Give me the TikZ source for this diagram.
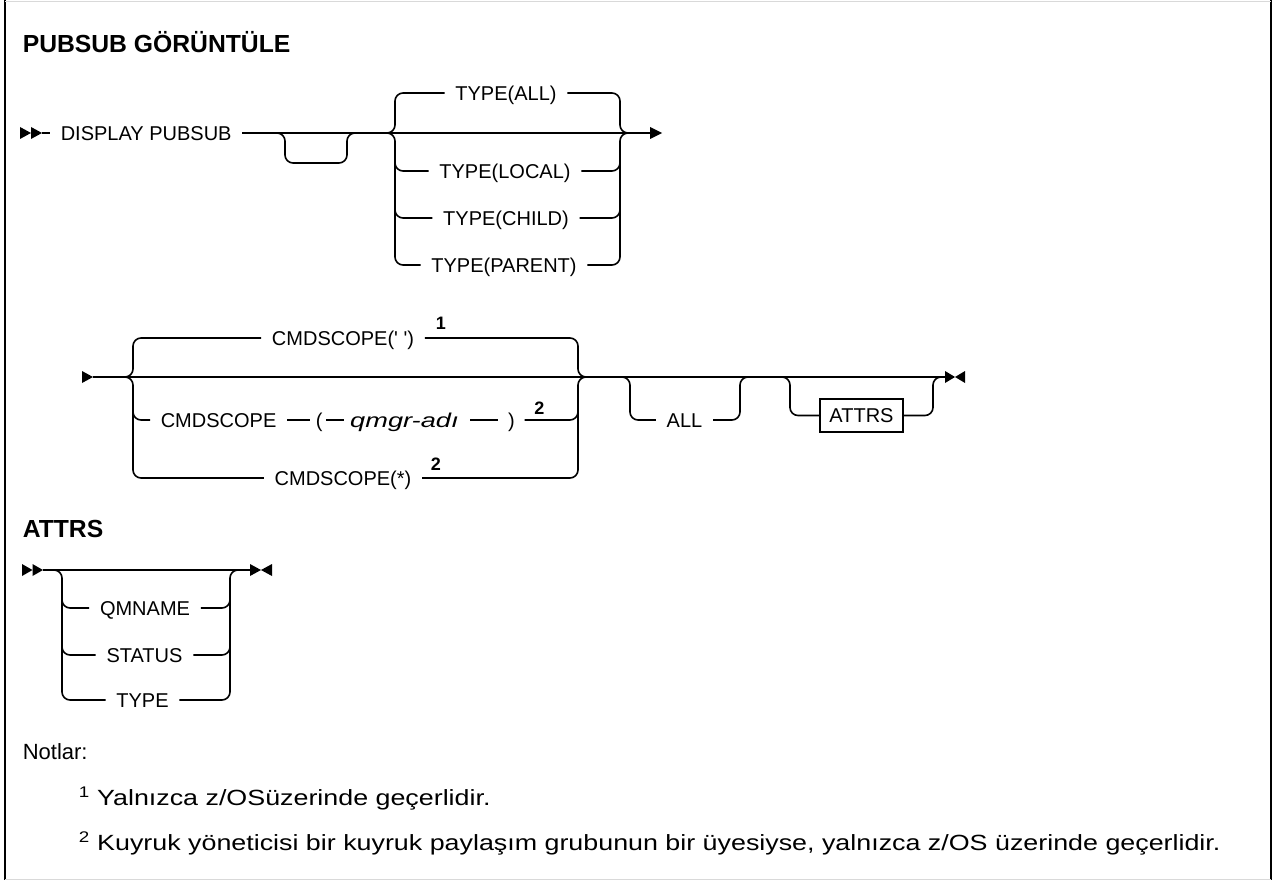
\documentclass[tikz,border=0pt]{standalone}
\usepackage{fontspec}
\setmainfont{Liberation Sans}[Ligatures=TeXOff]
\newfontfamily\widefont{Liberation Sans}[Ligatures=TeXOff,FakeStretch=1.22]
\newfontfamily\wideital{Liberation Sans Italic}[Ligatures=TeXOff,FakeStretch=1.36]
\begin{document}
\begin{tikzpicture}[x=1pt,y=-1pt,line width=1.6pt,
  rc/.style={rounded corners=8pt},
  lbl/.style={inner xsep=10pt,inner ysep=0pt,text height=14.3pt,text depth=0pt,font=\fontsize{20}{20}\selectfont},
  ital/.style={font=\fontsize{20}{20}\wideital},
  sup/.style={inner sep=0pt,font=\fontsize{18}{18}\selectfont\bfseries},
  head/.style={inner sep=0pt,anchor=base west,font=\fontsize{24.7}{24.7}\selectfont\bfseries},
  note/.style={inner sep=0pt,anchor=base west,font=\fontsize{22}{22}\widefont},
  tri/.style={line width=0pt}]
\useasboundingbox (0,0) rectangle (1275,880);
% frame
\draw[line width=2.5pt] (5,0) -- (5,880);
\draw[line width=2.5pt] (1271,0) -- (1271,880);
\draw[line width=0.8pt,black!15] (5,1) -- (1271,1);
\draw[line width=0.8pt,black!15] (5,879) -- (1271,879);

% title
\node[head] (title) at (22,53) {PUBSUB GÖRÜNTÜLE};

% ---------- row 1 ----------
\fill[tri] (20,127) -- (31,133) -- (20,139) -- cycle;
\fill[tri] (31,127) -- (42,133) -- (31,139) -- cycle;
\node[lbl,anchor=west] (disp) at (50,133) {DISPLAY PUBSUB};
\draw (42,133) -- (disp.west);
\draw (disp.east) -- (650,133);
\fill[tri] (650,127) -- (662,133) -- (650,139) -- cycle;
% empty bypass
\draw[rc] (275,133) -- (285,133) -- (285,163) -- (347,163) -- (347,133) -- (357,133);
% TYPE choice
\node[lbl] (tall) at (506,93) {TYPE(ALL)};
\node[lbl] (tloc) at (505,171) {TYPE(LOCAL)};
\node[lbl] (tchi) at (506,218) {TYPE(CHILD)};
\node[lbl] (tpar) at (504,265) {TYPE(PARENT)};
\draw[rc] (385,133) -- (395,133) |- (tall.west);
\draw[rc] (tall.east) -| (620,133) -- (630,133);
\draw[rc] (385,133) -- (395,133) |- (tpar.west);
\draw[rc] (tpar.east) -| (620,133) -- (630,133);
\draw[rc] (395,150) |- (tloc.west);
\draw[rc] (tloc.east) -| (620,150);
\draw[rc] (395,195) |- (tchi.west);
\draw[rc] (tchi.east) -| (620,195);

% ---------- row 2 ----------
\fill[tri] (82,371) -- (93,377) -- (82,383) -- cycle;
\draw (93,377) -- (945,377);
\node[lbl] (cs1) at (343,338) {CMDSCOPE(' ')};
\node[sup] (n1) at (441,323) {1};
\node[lbl,anchor=west] (cs2) at (150,420) {CMDSCOPE};
\node[lbl,inner xsep=0pt,anchor=west] (lp) at ([xshift=28pt]cs2.east) {(};
\node[lbl,ital,inner xsep=0pt,anchor=west] (qn) at ([xshift=26pt]lp.east) {qmgr-adı};
\node[lbl,inner xsep=0pt,anchor=west] (rp) at ([xshift=48pt]qn.east) {)};
\node[sup,anchor=west] (n2a) at ([xshift=18pt,yshift=12pt]rp.east) {2};
\node[lbl] (cs3) at (343,478) {CMDSCOPE(*)};
\node[sup] (n2b) at (436,464) {2};
\draw[rc] (123,377) -- (133,377) |- (cs1.west);
\draw[rc] (cs1.east) -| (578,377) -- (588,377);
\draw[rc] (123,377) -- (133,377) |- (cs3.west);
\draw[rc] (cs3.east) -| (578,377) -- (588,377);
\draw[rc] (133,400) |- (cs2.west);
\draw (cs2.east) -- ([xshift=-5pt]lp.west);
\draw ([xshift=3pt]lp.east) -- ([xshift=-5pt]qn.west);
\draw ([xshift=11pt]qn.east) -- ([xshift=-9pt]rp.west);
\draw[rc] ([xshift=9pt]rp.east) -| (578,400);
% ALL
\node[lbl] (all) at (684.5,420) {ALL};
\draw[rc] (620,377) -- (630,377) |- (all.west);
\draw[rc] (all.east) -| (740,377) -- (750,377);
% ATTRS reference box
\node[draw,line width=1.6pt,minimum width=83pt,minimum height=33pt,inner sep=0pt,font=\fontsize{20}{20}\selectfont] (attrs) at (861.5,415.5) {ATTRS};
\draw[rc] (780,377) -- (790,377) |- (attrs.west);
\draw[rc] (attrs.east) -| (933,377) -- (943,377);
\fill[tri] (945,371) -- (955,377) -- (945,383) -- cycle;
\fill[tri] (965,371) -- (955,377) -- (965,383) -- cycle;

% ---------- ATTRS fragment ----------
\node[head] (atitle) at (22,537) {ATTRS};
\fill[tri] (22,564) -- (32.5,570) -- (22,576) -- cycle;
\fill[tri] (32.5,564) -- (43,570) -- (32.5,576) -- cycle;
\draw (43,570) -- (250,570);
\node[lbl] (qmn) at (145,608) {QMNAME};
\node[lbl] (stat) at (144.5,655) {STATUS};
\node[lbl] (typ) at (142.5,700) {TYPE};
\draw[rc] (52,570) -- (62,570) |- (typ.west);
\draw[rc] (typ.east) -| (230,570) -- (240,570);
\draw[rc] (62,590) |- (qmn.west);
\draw[rc] (qmn.east) -| (230,590);
\draw[rc] (62,630) |- (stat.west);
\draw[rc] (stat.east) -| (230,630);
\fill[tri] (250,564) -- (261,570) -- (250,576) -- cycle;
\fill[tri] (272,564) -- (261,570) -- (272,576) -- cycle;

% ---------- notes ----------
\node[inner sep=0pt,anchor=base west,font=\fontsize{22}{22}\selectfont] (notlar) at (22,759) {Notlar:};
\node[note] (note1) at (78,805) {\textsuperscript{1} Yalnızca z/OSüzerinde geçerlidir.};
\node[note] (note2) at (78,850) {\textsuperscript{2} Kuyruk yöneticisi bir kuyruk paylaşım grubunun bir üyesiyse, yalnızca z/OS üzerinde geçerlidir.};
\end{tikzpicture}
\end{document}
